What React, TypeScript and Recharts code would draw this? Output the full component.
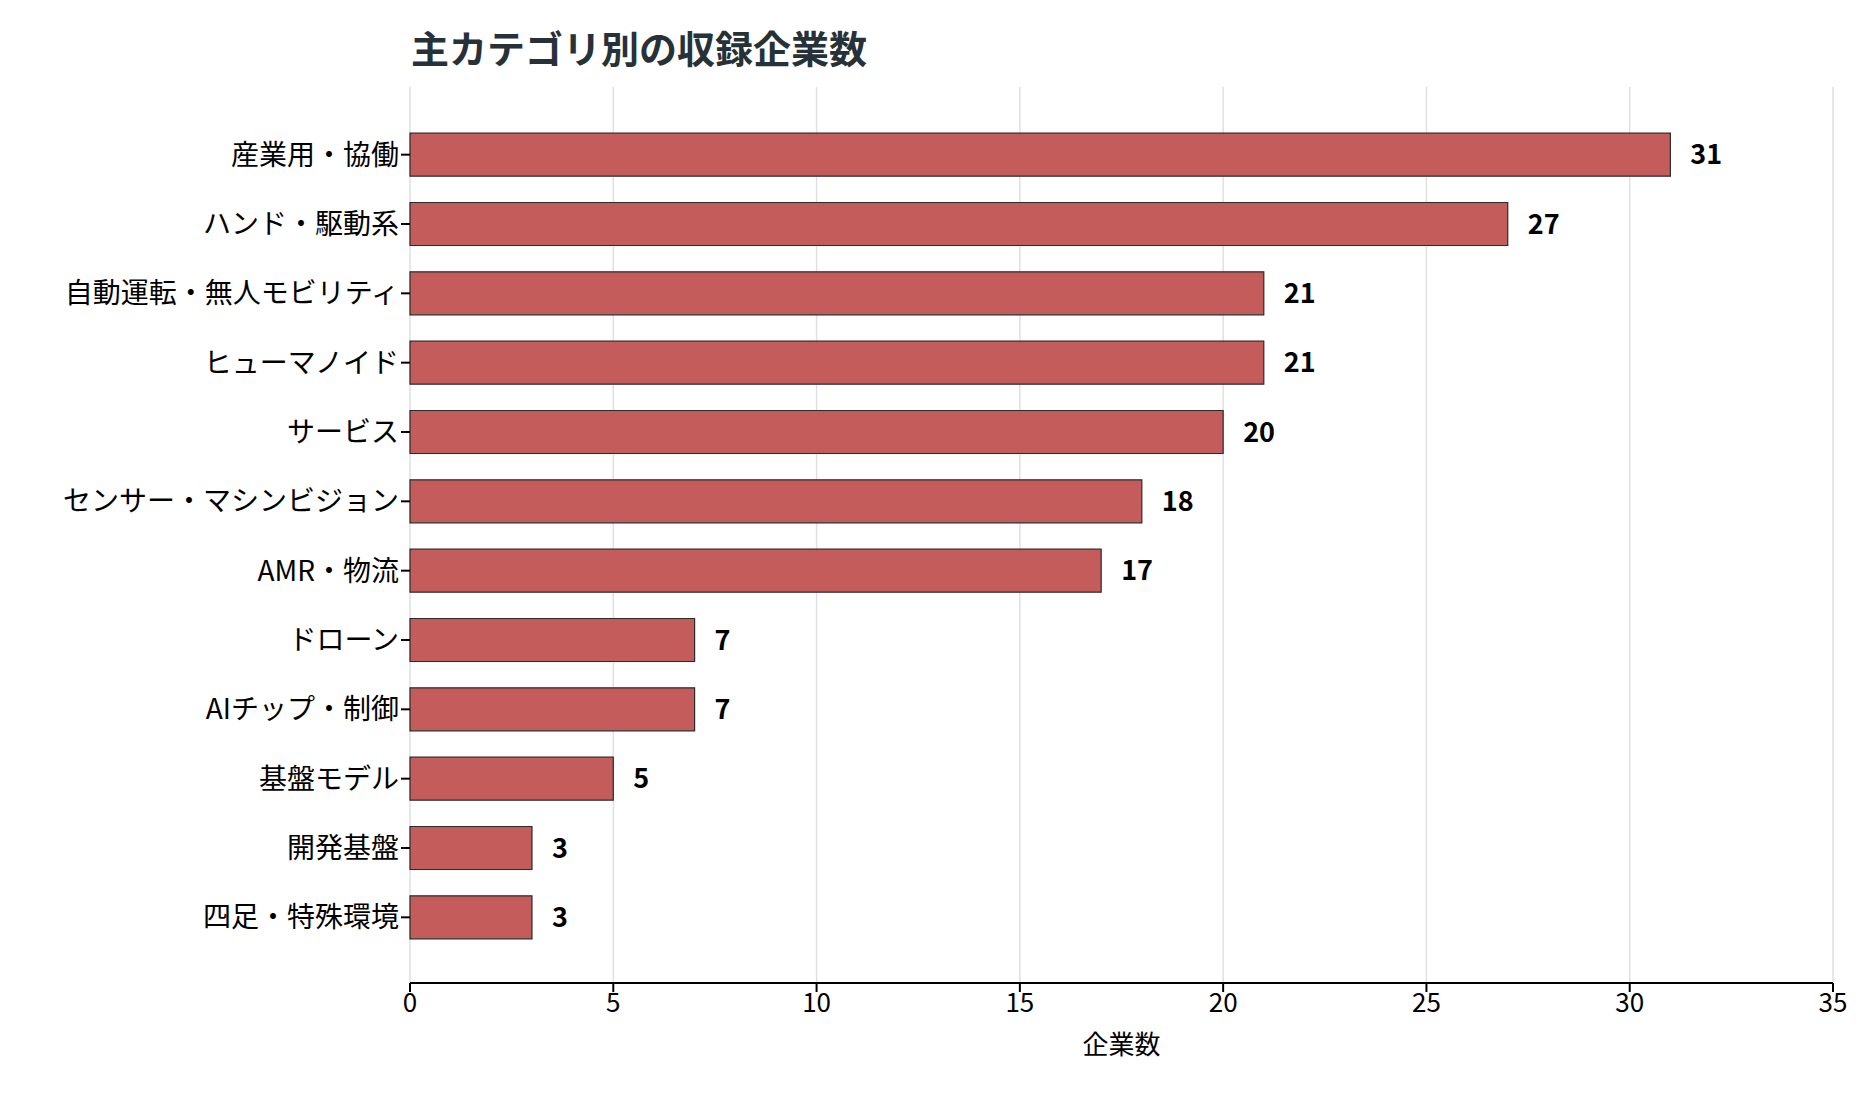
import React from 'react';
import { BarChart, Bar, XAxis, YAxis, CartesianGrid, LabelList } from 'recharts';

const categories = ['産業用・協働','ハンド・駆動系','自動運転・無人モビリティ','ヒューマノイド','サービス','センサー・マシンビジョン','AMR・物流','ドローン','AIチップ・制御','基盤モデル','開発基盤','四足・特殊環境'];
const counts = [31,27,21,21,20,18,17,7,7,5,3,3];
const xTicks = [0,5,10,15,20,25,30,35];

const data = categories.map((c, i) => ({ name: c, value: counts[i] }));
const FONT = '"Noto Sans CJK JP", "Noto Sans", sans-serif';

export default function App() {
  return (
    <div style={{ position: 'relative', width: 1847, height: 1086, fontFamily: FONT }}>
      <div style={{ position: 'absolute', left: 403, top: 14, fontSize: 38, fontWeight: 700, color: '#263238', lineHeight: '50px' }}>主カテゴリ別の収録企業数</div>
      <BarChart width={1847} height={1086} data={data} layout="vertical"
        margin={{ top: 79, right: 22, bottom: 40, left: 2 }} barCategoryGap="19%">
        <CartesianGrid horizontal={false} stroke="#dde0e4" strokeWidth={1.5} />
        <XAxis type="number" domain={[0, 35]} ticks={xTicks} axisLine={{ stroke: '#000', strokeWidth: 2 }}
          tickLine={{ stroke: '#000', strokeWidth: 2 }} tickSize={9}
          tick={{ fill: '#000', fontSize: 26, fontFamily: FONT }} height={71}
          label={{ value: '企業数', position: 'insideBottom', offset: 0, fill: '#000', fontSize: 26, fontFamily: FONT }} />
        <YAxis type="category" dataKey="name" width={400} axisLine={false}
          tickLine={{ stroke: '#000', strokeWidth: 2 }} tickSize={9}
          tick={{ fill: '#000', fontSize: 28, fontFamily: FONT }} padding={{ top: 33, bottom: 31 }} />
        <Bar dataKey="value" fill="#c45c5c" stroke="#2b2b2b" strokeWidth={1.2} isAnimationActive={false}>
          <LabelList dataKey="value" position="right" offset={20} fill="#000" fontSize={27} fontWeight={700} fontFamily={FONT} />
        </Bar>
      </BarChart>
    </div>
  );
}
